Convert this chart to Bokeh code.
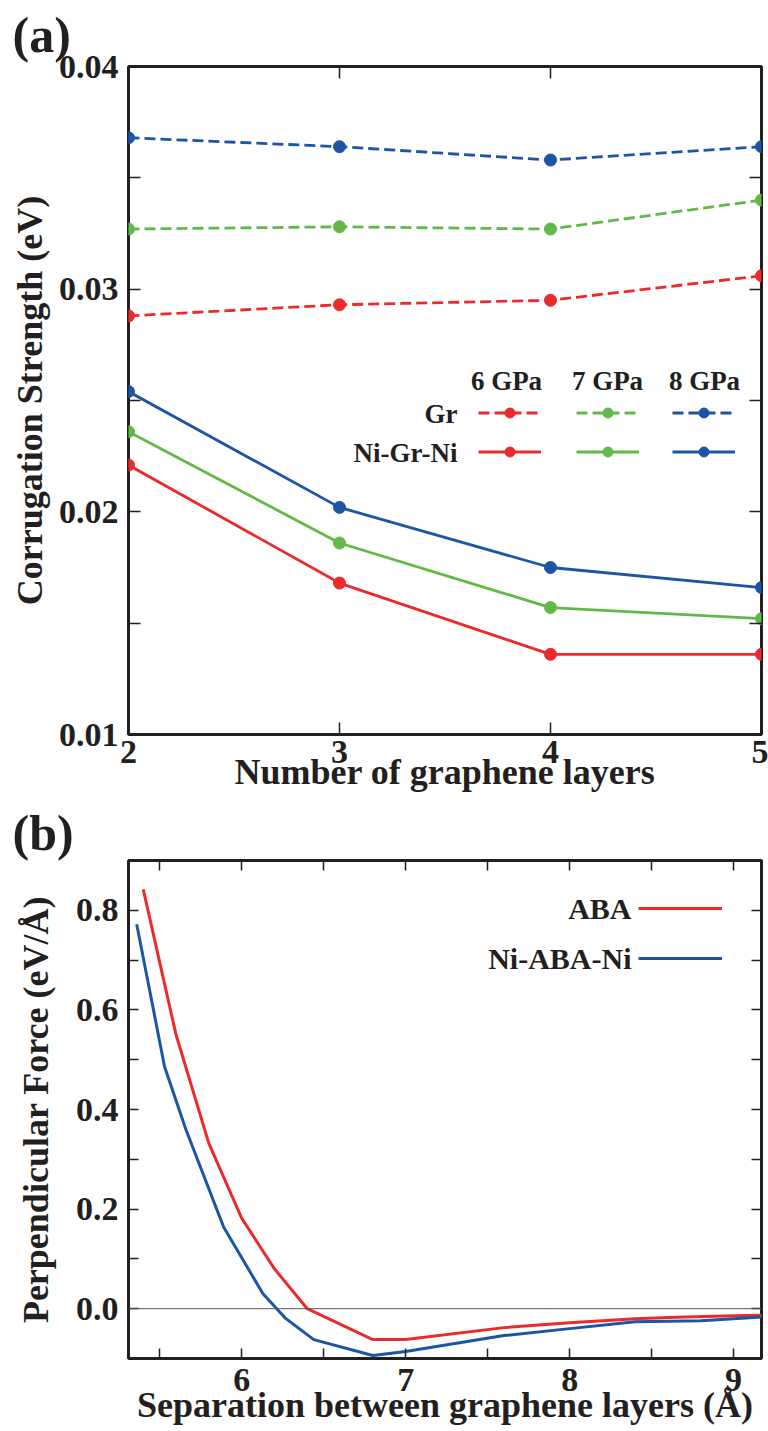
from bokeh.plotting import figure
from bokeh.models import (FixedTicker, LinearAxis, Range1d, Label, Legend, LegendItem,
                          Span, PrintfTickFormatter, CustomJSTickFormatter)
from bokeh.layouts import column
from bokeh.embed import file_html
from bokeh.resources import INLINE

FONT = "Liberation Serif"
INK = "#231f20"
RED = "#ec2a2c"
GREEN = "#63b947"
BLUE = "#1c55a6"

# ---------------- Panel (a) data ----------------
layers = [2, 3, 4, 5]
gr_6gpa = [0.0288, 0.0293, 0.0295, 0.0306]
gr_7gpa = [0.0327, 0.0328, 0.0327, 0.0340]
gr_8gpa = [0.0368, 0.0364, 0.0358, 0.0364]
nigrni_6gpa = [0.0221, 0.0168, 0.0136, 0.0136]
nigrni_7gpa = [0.0236, 0.0186, 0.0157, 0.0152]
nigrni_8gpa = [0.0254, 0.0202, 0.0175, 0.0166]
pressures = ["6 GPa", "7 GPa", "8 GPa"]
a_xticks = [2, 3, 4, 5]
a_yticks = [0.01, 0.02, 0.03, 0.04]
a_yminor = [0.015, 0.025, 0.035]

# ---------------- Panel (b) data ----------------
aba_sep = [5.40, 5.60, 5.80, 6.00, 6.20, 6.40, 6.80, 7.00, 7.60, 8.00, 8.40, 8.65, 9.00, 9.20]
aba_force = [0.842, 0.55, 0.332, 0.182, 0.08, 0.0, -0.062, -0.062, -0.038, -0.028, -0.02, -0.017, -0.014, -0.013]
niaba_sep = [5.36, 5.53, 5.66, 5.89, 6.13, 6.27, 6.44, 6.80, 7.00, 7.60, 8.00, 8.40, 8.80, 9.20]
niaba_force = [0.772, 0.486, 0.36, 0.164, 0.03, -0.02, -0.062, -0.094, -0.086, -0.054, -0.04, -0.026, -0.024, -0.016]
b_xticks = [6, 7, 8, 9]
b_xminor = [5.5, 6.5, 7.5, 8.5]
b_yticks = [0.0, 0.2, 0.4, 0.6, 0.8]
b_yminor = [0.1, 0.3, 0.5, 0.7]

BLANK = CustomJSTickFormatter(code="return ''")


def style_axis(ax, ticks, minor, fmt=None, labels=True, tick_len=12):
    ax.ticker = FixedTicker(ticks=ticks, minor_ticks=minor)
    ax.axis_line_color = None
    ax.major_tick_in = tick_len
    ax.major_tick_out = 0
    ax.minor_tick_in = tick_len
    ax.minor_tick_out = 0
    ax.major_tick_line_color = INK
    ax.minor_tick_line_color = INK
    ax.major_tick_line_width = 1.5
    ax.minor_tick_line_width = 1.5
    ax.major_label_text_font = FONT
    ax.major_label_text_font_style = "bold"
    ax.major_label_text_color = INK
    if labels:
        ax.formatter = PrintfTickFormatter(format=fmt)
        ax.major_label_text_font_size = "34px"
    else:
        ax.formatter = BLANK
        ax.major_label_text_font_size = "2px"
        ax.major_label_standoff = 0
    ax.axis_label_text_font = FONT
    ax.axis_label_text_font_style = "bold"
    ax.axis_label_text_font_size = "36px"
    ax.axis_label_text_color = INK


def txt(p, x, y, text, size, align="left"):
    p.add_layout(Label(x=x, y=y, x_units="screen", y_units="screen", text=text,
                       text_font=FONT, text_font_style="bold", text_font_size=size,
                       text_color=INK, text_align=align, text_baseline="middle"))


def panel_title(p, text, standoff):
    p.title.text = text
    p.title.text_font = FONT
    p.title.text_font_style = "bold"
    p.title.text_font_size = "50px"
    p.title.text_color = INK
    p.title.align = "left"
    p.title.offset = -116
    p.title.standoff = standoff


def frame_style(p):
    p.grid.visible = False
    p.outline_line_color = INK
    p.outline_line_width = 3
    p.outline_line_alpha = 1
    p.background_fill_color = "white"
    p.border_fill_color = "white"


def sample_legend(items, loc, gw, gh, spacing):
    return Legend(items=items, location=loc, orientation="vertical",
                  glyph_width=gw, glyph_height=gh, label_width=0, label_height=gh,
                  label_standoff=0, label_text_font_size="1px", label_text_alpha=0,
                  spacing=spacing, padding=0, margin=0,
                  background_fill_alpha=0, border_line_alpha=0)


# ================= Panel (a) =================
pa = figure(width=768, height=802, x_range=Range1d(2, 5), y_range=Range1d(0.01, 0.04),
            output_backend="svg", toolbar_location=None,
            min_border_left=128, min_border_right=6, min_border_top=66, min_border_bottom=68)
frame_style(pa)
panel_title(pa, "(a)", 7)

style_axis(pa.xaxis[0], a_xticks, [], fmt="%d")
style_axis(pa.yaxis[0], a_yticks, a_yminor, fmt="%.2f")
pa.xaxis[0].major_label_standoff = 6
pa.xaxis[0].axis_label = "Number of graphene layers"
pa.xaxis[0].axis_label_standoff = -14
pa.yaxis[0].major_label_standoff = 10
pa.yaxis[0].axis_label = "Corrugation Strength (eV)"
pa.yaxis[0].axis_label_standoff = 6

ax_top = LinearAxis()
style_axis(ax_top, a_xticks, [], labels=False)
pa.add_layout(ax_top, "above")
ax_right = LinearAxis()
style_axis(ax_right, a_yticks, a_yminor, labels=False)
pa.add_layout(ax_right, "right")

colors = [RED, GREEN, BLUE]
gr_sets = [gr_6gpa, gr_7gpa, gr_8gpa]
ni_sets = [nigrni_6gpa, nigrni_7gpa, nigrni_8gpa]
leg_x = [350, 448, 544]
head_x = [378, 479, 576]
for i in range(3):
    c = colors[i]
    lg = pa.line(layers, gr_sets[i], line_color=c, line_width=2.8, line_dash="11 5")
    sg = pa.scatter(layers, gr_sets[i], size=12, fill_color=c, line_color=c)
    ln = pa.line(layers, ni_sets[i], line_color=c, line_width=2.8)
    sn = pa.scatter(layers, ni_sets[i], size=12, fill_color=c, line_color=c)
    pa.add_layout(sample_legend([LegendItem(label="", renderers=[lg, sg]),
                                 LegendItem(label="", renderers=[ln, sn])],
                                (leg_x[i], 270), 63, 25, 14))
    txt(pa, head_x[i], 354, pressures[i], "27px", align="center")

txt(pa, 329, 321, "Gr", "27px", align="right")
txt(pa, 329, 282, "Ni-Gr-Ni", "27px", align="right")

# ================= Panel (b) =================
pb = figure(width=768, height=629, x_range=Range1d(5.31, 9.17), y_range=Range1d(-0.1, 0.9),
            output_backend="svg", toolbar_location=None,
            min_border_left=128, min_border_right=7, min_border_top=56, min_border_bottom=73)
frame_style(pb)
panel_title(pb, "(b)", 0)

style_axis(pb.xaxis[0], b_xticks, b_xminor, fmt="%d", tick_len=10)
style_axis(pb.yaxis[0], b_yticks, b_yminor, fmt="%.1f", tick_len=10)
pb.xaxis[0].major_label_standoff = 10
pb.xaxis[0].axis_label = "Separation between graphene layers (Å)"
pb.xaxis[0].axis_label_standoff = -9
pb.yaxis[0].major_label_standoff = 10
pb.yaxis[0].axis_label = "Perpendicular Force (eV/Å)"
pb.yaxis[0].axis_label_standoff = 17

bx_top = LinearAxis()
style_axis(bx_top, b_xticks, b_xminor, labels=False, tick_len=10)
pb.add_layout(bx_top, "above")
by_right = LinearAxis()
style_axis(by_right, b_yticks, b_yminor, labels=False, tick_len=10)
pb.add_layout(by_right, "right")

pb.add_layout(Span(location=0, dimension="width", line_color="#555555", line_width=1))

r_aba = pb.line(aba_sep, aba_force, line_color=RED, line_width=3)
r_ni = pb.line(niaba_sep, niaba_force, line_color=BLUE, line_width=3)
pb.add_layout(sample_legend([LegendItem(label="", renderers=[r_aba]),
                             LegendItem(label="", renderers=[r_ni])],
                            (510, 390), 84, 20, 30))
txt(pb, 503, 450, "ABA", "30px", align="right")
txt(pb, 503, 400, "Ni-ABA-Ni", "30px", align="right")

layout = column(pa, pb, spacing=0)
open("out.html", "w").write(file_html(layout, INLINE))
